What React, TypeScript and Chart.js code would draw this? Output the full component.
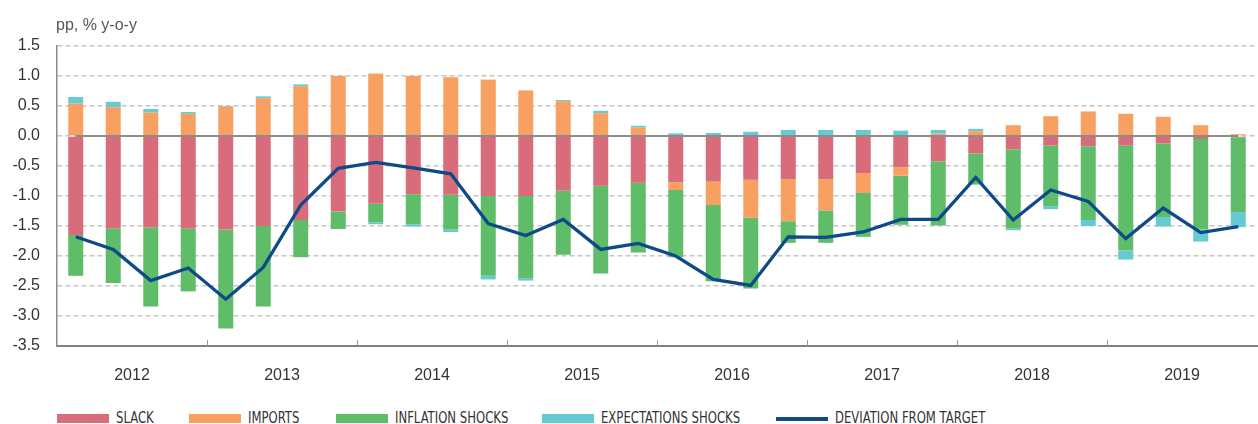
import React, { useEffect, useRef } from 'react';
import { Chart, registerables } from 'chart.js';

Chart.register(...registerables);

const years = ['2012', '2013', '2014', '2015', '2016', '2017', '2018', '2019'];
const quarterNames = ['Q1', 'Q2', 'Q3', 'Q4'];
const quarters = years.flatMap((y) => quarterNames.map((q) => `${y} ${q}`));

const slack = [
  -1.65, -1.54, -1.52, -1.54, -1.56, -1.5, -1.4, -1.26,
  -1.13, -0.97, -0.98, -1.0, -1.0, -0.91, -0.83, -0.78,
  -0.77, -0.76, -0.73, -0.72, -0.72, -0.62, -0.52, -0.42,
  -0.29, -0.22, -0.16, -0.17, -0.16, -0.12, -0.05, -0.02,
];
const imports = [
  0.54, 0.48, 0.39, 0.37, 0.49, 0.63, 0.83, 1.0,
  1.04, 1.0, 0.98, 0.94, 0.76, 0.58, 0.38, 0.14,
  -0.13, -0.39, -0.63, -0.7, -0.52, -0.33, -0.14, 0.04,
  0.08, 0.18, 0.33, 0.41, 0.37, 0.32, 0.18, 0.03,
];
const inflationShocks = [
  -0.68, -0.91, -1.32, -1.05, -1.65, -1.34, -0.62, -0.29,
  -0.31, -0.5, -0.58, -1.33, -1.37, -1.07, -1.46, -1.16,
  -1.12, -1.27, -1.18, -0.36, -0.54, -0.73, -0.82, -1.07,
  -0.52, -1.32, -1.01, -1.23, -1.75, -1.23, -1.51, -1.25,
];
const expectationsShocks = [
  0.11, 0.09, 0.06, 0.03, 0.01, 0.03, 0.03, 0.0,
  -0.03, -0.04, -0.04, -0.06, -0.04, 0.02, 0.04, 0.03,
  0.045, 0.05, 0.07, 0.1, 0.1, 0.1, 0.09, 0.06,
  0.04, -0.03, -0.05, -0.1, -0.15, -0.16, -0.2, -0.25,
];
const deviationFromTarget = [
  -1.68, -1.89, -2.41, -2.2, -2.72, -2.19, -1.15, -0.54,
  -0.44, -0.53, -0.63, -1.46, -1.66, -1.39, -1.89, -1.79,
  -2.0, -2.39, -2.49, -1.68, -1.69, -1.6, -1.39, -1.39,
  -0.69, -1.4, -0.9, -1.09, -1.71, -1.2, -1.61, -1.51,
];

const C_SLACK = '#d96c7b';
const C_IMPORTS = '#f7a061';
const C_INFL = '#5fbd69';
const C_EXP = '#66cad2';
const C_DEV = '#0d4a87';

const FONT = "'Liberation Sans', Arial, sans-serif";
const NARROW = "'Liberation Sans Narrow', 'DejaVu Sans Condensed', sans-serif";

const legendItems = [
  { label: 'SLACK', color: C_SLACK, kind: 'box', left: 57 },
  { label: 'IMPORTS', color: C_IMPORTS, kind: 'box', left: 189 },
  { label: 'INFLATION SHOCKS', color: C_INFL, kind: 'box', left: 336 },
  { label: 'EXPECTATIONS SHOCKS', color: C_EXP, kind: 'box', left: 542 },
  { label: 'DEVIATION FROM TARGET', color: C_DEV, kind: 'line', left: 776 },
];

const decorations = {
  id: 'decorations',
  afterDatasetsDraw(chart: any) {
    const { ctx, chartArea, scales } = chart;
    const x = scales.x;
    const y = scales.y;
    const y0 = y.getPixelForValue(0);
    ctx.save();
    ctx.strokeStyle = '#8c8c8c';
    ctx.lineWidth = 2;
    ctx.setLineDash([]);
    ctx.beginPath();
    ctx.moveTo(x.getPixelForValue(0), y0);
    ctx.lineTo(x.getPixelForValue(quarters.length - 1), y0);
    ctx.stroke();
    ctx.strokeStyle = '#9a9a9a';
    ctx.lineWidth = 1;
    ctx.beginPath();
    for (let i = 4; i < quarters.length; i += 4) {
      const px = Math.round((x.getPixelForValue(i - 1) + x.getPixelForValue(i)) / 2) + 0.5;
      ctx.moveTo(px, chartArea.bottom);
      ctx.lineTo(px, chartArea.bottom - 6);
    }
    ctx.stroke();
    ctx.restore();
  },
};

export default function App() {
  const ref = useRef<HTMLCanvasElement>(null);

  useEffect(() => {
    if (!ref.current) return;
    const barCommon = { stack: 'bars', order: 1, barPercentage: 0.4, categoryPercentage: 1.0, borderWidth: 0 };
    const chart = new Chart(ref.current, {
      type: 'bar',
      data: {
        labels: quarters,
        datasets: [
          { ...barCommon, label: 'SLACK', data: slack, backgroundColor: C_SLACK },
          { ...barCommon, label: 'IMPORTS', data: imports, backgroundColor: C_IMPORTS },
          { ...barCommon, label: 'INFLATION SHOCKS', data: inflationShocks, backgroundColor: C_INFL },
          { ...barCommon, label: 'EXPECTATIONS SHOCKS', data: expectationsShocks, backgroundColor: C_EXP },
          {
            type: 'line',
            label: 'DEVIATION FROM TARGET',
            data: deviationFromTarget,
            borderColor: C_DEV,
            backgroundColor: C_DEV,
            borderWidth: 3.3,
            pointRadius: 0,
            tension: 0,
            fill: false,
            stack: 'line',
            order: 0,
          } as any,
        ],
      },
      options: {
        responsive: false,
        animation: false,
        layout: { padding: { top: 46, right: 1, bottom: 0, left: 0 } },
        plugins: {
          legend: { display: false },
          tooltip: { enabled: false },
          title: { display: false },
        },
        scales: {
          x: { display: false, stacked: true, offset: true },
          x2: {
            type: 'category',
            labels: years,
            position: 'bottom',
            offset: true,
            grid: { display: false },
            border: { display: true, color: '#808080', width: 2 },
            ticks: { padding: 12, color: '#333', font: { family: FONT, size: 16 }, maxRotation: 0, autoSkip: false },
            afterFit: (s: any) => { s.height = 44; },
          },
          y: {
            stacked: true,
            min: -3.5,
            max: 1.5,
            ticks: {
              stepSize: 0.5,
              padding: 17,
              color: '#333',
              font: { family: FONT, size: 16 },
              callback: (v: any) => Number(v).toFixed(1),
            },
            grid: { color: '#c6c6c6', lineWidth: 1.5, drawTicks: false },
            border: { display: true, color: '#8a8a8a', width: 1.5, dash: [5, 3] },
            afterFit: (s: any) => { s.width = 57; },
          },
        },
      } as any,
      plugins: [decorations],
    });
    return () => chart.destroy();
  }, []);

  return (
    <div style={{ position: 'absolute', left: 0, top: 0, width: 1258, height: 424, overflow: 'hidden', background: '#fff' }}>
      <canvas ref={ref} width={1258} height={390} style={{ position: 'absolute', left: 0, top: 0, display: 'block' }} />
      <div
        style={{
          position: 'absolute', left: 56, top: 17, fontFamily: FONT, fontSize: 16,
          lineHeight: '16px', color: '#555', whiteSpace: 'nowrap',
        }}
      >
        pp, % y-o-y
      </div>
      {legendItems.map((it) => (
        <div key={it.label} style={{ position: 'absolute', left: it.left, top: 408, height: 16, whiteSpace: 'nowrap' }}>
          <div
            style={{
              position: 'absolute', left: 0, top: it.kind === 'box' ? 6 : 9, width: 52,
              height: it.kind === 'box' ? 9 : 4, background: it.color,
            }}
          />
          <div
            style={{
              position: 'absolute', left: 59, top: 2, fontFamily: NARROW, fontSize: 16,
              lineHeight: '16px', color: '#333', transform: 'scaleX(0.81)', transformOrigin: 'left center',
            }}
          >
            {it.label}
          </div>
        </div>
      ))}
    </div>
  );
}
